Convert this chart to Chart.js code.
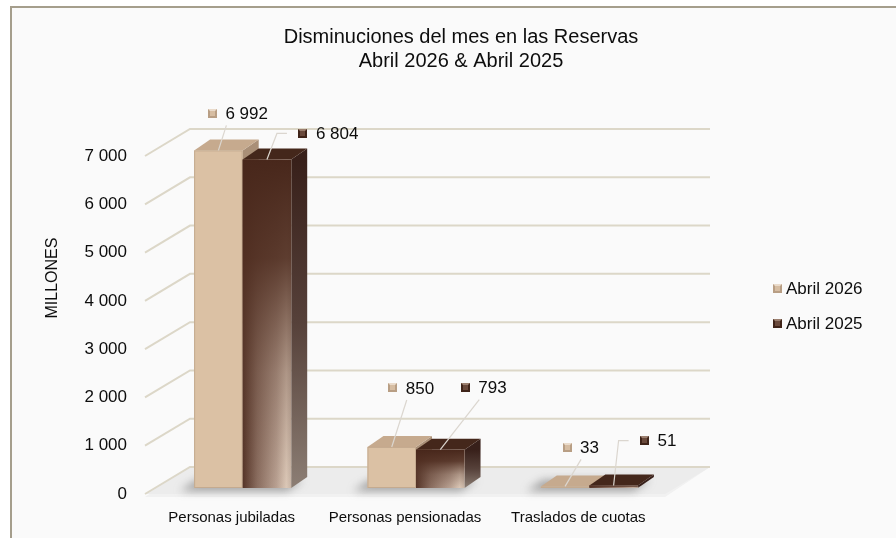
<!DOCTYPE html>
<html>
<head>
<meta charset="utf-8">
<script src="https://cdn.jsdelivr.net/npm/chart.js@4.4.1/dist/chart.umd.min.js"></script>
<style>
  body { margin: 0; background: #ffffff; }
  canvas { display: block; }
</style>
</head>
<body>
<canvas id="reservas" width="896" height="538"></canvas>
<script>
var categorias = ['Personas jubiladas', 'Personas pensionadas', 'Traslados de cuotas'];
var abril2026 = [6992, 850, 33];
var abril2025 = [6804, 793, 51];
var ticksY = [0, 1000, 2000, 3000, 4000, 5000, 6000, 7000];
var series = ['Abril 2026', 'Abril 2025'];
var titulo = ['Disminuciones del mes en las Reservas', 'Abril 2026 & Abril 2025'];
var tituloEje = 'MILLONES';

// posicion de las etiquetas respecto a la cara frontal de cada barra (como en excel)
var posEtiq = [
  [[-6, -37], [1, -59], [2, -39]],
  [[36, -26], [25, -62], [31, -45]]
];
var guiaEtiq = [
  ['abajo', 'abajo', 'abajo'],
  ['izq', 'abajo', 'izq']
];

// desplazamientos del efecto 3d
var OX = 11, OY = -6;   // cara frontal de las barras respecto al piso
var BX = 16, BY = -11;  // profundidad de las barras
var PX = 45, PY = -27;  // profundidad de las paredes

var fuente = 'Liberation Sans';
var colorTexto = '#0d0d0d';

function miles(v) {
  return String(v).replace(/\B(?=(\d{3})+(?!\d))/g, ' ');
}

function poly(c, pts, fill) {
  c.beginPath();
  c.moveTo(pts[0][0], pts[0][1]);
  for (var k = 1; k < pts.length; k++) c.lineTo(pts[k][0], pts[k][1]);
  c.closePath();
  c.fillStyle = fill;
  c.fill();
}

function icono(c, cx, cy, serie) {
  var s = 9;
  var x = Math.round(cx - s / 2), y = Math.round(cy - s / 2);
  var base = serie === 0 ? '#b89e84' : '#3f2419';
  var claro = serie === 0 ? '#eadbcb' : '#9c8070';
  var medio = serie === 0 ? '#d6bda2' : '#6a4a3c';
  c.fillStyle = base;
  c.fillRect(x, y, s, s);
  poly(c, [[x, y], [x + s, y], [x + s - 2, y + 2], [x + 2, y + 2]], claro);
  c.fillStyle = medio;
  c.fillRect(x + 2, y + 2, s - 4, s - 4);
}

function caja(c, bar, serie) {
  var x0 = bar.x - bar.width / 2 + OX, x1 = bar.x + bar.width / 2 + OX;
  var yt = bar.y + OY, yb = bar.base + OY;
  var lado = [[x1, yt], [x1 + BX, yt + BY], [x1 + BX, yb + BY], [x1, yb]];
  var tapa = [[x0, yt], [x1, yt], [x1 + BX, yt + BY], [x0 + BX, yt + BY]];
  var frente = [[x0, yt], [x1, yt], [x1, yb], [x0, yb]];

  if (serie === 0) {
    var gl = c.createLinearGradient(0, yt, 0, yb);
    gl.addColorStop(0, '#a98f77');
    gl.addColorStop(1, '#b9a089');
    poly(c, lado, gl);
    poly(c, tapa, '#c6aa8e');
    poly(c, frente, '#dbc1a4');
    c.strokeStyle = '#c4aa8f';
    c.lineWidth = 1;
    c.strokeRect(x0 + 0.5, yt + 0.5, x1 - x0 - 1, yb - yt - 1);
  } else {
    var gs = c.createLinearGradient(0, yt, 0, yb);
    gs.addColorStop(0, '#38201a');
    gs.addColorStop(0.5, '#56413a');
    gs.addColorStop(1, '#8c7e74');
    poly(c, lado, gs);
    poly(c, tapa, '#44271b');
    // brillo horizontal (parte baja de la barra)
    var gh = c.createLinearGradient(x0, 0, x1, 0);
    gh.addColorStop(0, '#553427');
    gh.addColorStop(0.3, '#8a6d5f');
    gh.addColorStop(0.7, '#b9a192');
    gh.addColorStop(0.9, '#dcc8b7');
    gh.addColorStop(1, '#c9b6a7');
    poly(c, frente, gh);
    // sombra oscura que baja desde arriba
    var gv = c.createLinearGradient(0, yt, 0, yb);
    gv.addColorStop(0, 'rgba(72,39,27,1)');
    gv.addColorStop(0.3, 'rgba(80,46,33,0.9)');
    gv.addColorStop(0.65, 'rgba(90,58,45,0.35)');
    gv.addColorStop(1, 'rgba(90,58,45,0)');
    poly(c, frente, gv);
  }
}

var efecto3d = {
  id: 'efecto3d',
  beforeDraw: function(chart) {
    var c = chart.ctx;
    c.save();
    c.fillStyle = '#ffffff';
    c.fillRect(0, 0, chart.width, chart.height);
    c.fillStyle = '#fafafa';
    c.fillRect(11, 7, chart.width, chart.height);
    c.strokeStyle = '#a59e8c';
    c.lineWidth = 2;
    c.beginPath();
    c.moveTo(11, chart.height);
    c.lineTo(11, 7);
    c.lineTo(chart.width, 7);
    c.stroke();
    c.restore();
  },
  beforeDatasetsDraw: function(chart) {
    var c = chart.ctx, a = chart.chartArea, ey = chart.scales.y;
    c.save();
    // piso
    poly(c, [[a.left, a.bottom + 3], [a.right, a.bottom + 3], [a.right + PX, a.bottom + PY], [a.left + PX, a.bottom + PY]], '#f1f1f1');
    poly(c, [[a.left, a.bottom], [a.right, a.bottom], [a.right + PX, a.bottom + PY], [a.left + PX, a.bottom + PY]], '#ececec');
    // lineas de division
    c.strokeStyle = '#dcd7c8';
    c.lineWidth = 2;
    ticksY.forEach(function(v) {
      var py = ey.getPixelForValue(v);
      c.beginPath();
      c.moveTo(a.left, py);
      c.lineTo(a.left + PX, py + PY);
      c.lineTo(a.right + PX, py + PY);
      c.stroke();
    });
    // sombras de las barras sobre el piso
    var m0 = chart.getDatasetMeta(0), m1 = chart.getDatasetMeta(1);
    c.filter = 'blur(4px)';
    for (var i = 0; i < categorias.length; i++) {
      var b0 = m0.data[i], b1 = m1.data[i];
      var x0 = b0.x - b0.width / 2 + OX - 14, x1 = b1.x + b1.width / 2 + OX - 4;
      var yb = b0.base + OY + 3;
      poly(c, [[x0, yb], [x1, yb], [x1 + BX, yb + BY], [x0 + BX, yb + BY]], 'rgba(100,100,100,0.55)');
    }
    c.filter = 'none';
    c.restore();
  },
  afterDatasetsDraw: function(chart) {
    var c = chart.ctx;
    c.save();
    var metas = [chart.getDatasetMeta(0), chart.getDatasetMeta(1)];
    for (var i = 0; i < categorias.length; i++) {
      for (var s = 0; s < 2; s++) {
        caja(c, metas[s].data[i], s);
      }
    }
    // lineas guia y etiquetas de datos
    c.font = '17px "' + fuente + '"';
    c.textBaseline = 'middle';
    c.textAlign = 'left';
    for (var s2 = 0; s2 < 2; s2++) {
      var valores = chart.data.datasets[s2].data;
      for (var j = 0; j < valores.length; j++) {
        var bar = metas[s2].data[j];
        var cx = bar.x + OX, yt = bar.y + OY;
        var ix = cx + posEtiq[s2][j][0], iy = yt + posEtiq[s2][j][1];
        c.strokeStyle = '#dbd6cf';
        c.lineWidth = 1.2;
        c.beginPath();
        c.moveTo(cx, yt);
        if (guiaEtiq[s2][j] === 'izq') {
          c.lineTo(ix - 26, iy);
          c.lineTo(ix - 16, iy);
        } else {
          c.lineTo(ix + 14, iy + 12);
        }
        c.stroke();
        icono(c, ix, iy, s2);
        c.fillStyle = colorTexto;
        c.fillText(miles(valores[j]), ix + 13, iy + 1);
      }
    }
    // leyenda
    for (var k = 0; k < series.length; k++) {
      var ly = 288 + k * 35;
      icono(c, 777, ly, k);
      c.fillStyle = colorTexto;
      c.fillText(series[k], 786, ly + 1);
    }
    // titulo del eje
    c.translate(52, 278);
    c.rotate(-Math.PI / 2);
    c.textAlign = 'center';
    c.font = '16px "' + fuente + '"';
    c.fillText(tituloEje, 0, 1);
    c.restore();
  }
};

Chart.defaults.font.family = fuente;
Chart.defaults.color = colorTexto;

var ctx = document.getElementById('reservas');
var grafico = new Chart(ctx, {
  type: 'bar',
  data: {
    labels: categorias,
    datasets: [
      {
        label: series[0],
        data: abril2026,
        yAxisID: 'y',
        backgroundColor: 'rgba(0,0,0,0)',
        categoryPercentage: 0.56,
        barPercentage: 1
      },
      {
        label: series[1],
        data: abril2025,
        yAxisID: 'y',
        backgroundColor: 'rgba(0,0,0,0)',
        categoryPercentage: 0.56,
        barPercentage: 1
      }
    ]
  },
  options: {
    responsive: false,
    animation: false,
    layout: { padding: { left: 26, right: 0, top: 0, bottom: 0 } },
    plugins: {
      legend: { display: false },
      tooltip: { enabled: false },
      title: {
        display: true,
        text: titulo,
        color: colorTexto,
        font: { family: fuente, size: 20, weight: 'normal' },
        padding: { top: 25, bottom: 83 }
      }
    },
    scales: {
      x: {
        grid: { display: false, drawTicks: false },
        border: { display: false },
        ticks: { font: { size: 15 }, color: colorTexto, padding: 15, autoSkip: false, maxRotation: 0 },
        afterFit: function(s) { s.height = 44; }
      },
      y: {
        min: 0,
        max: 7000,
        afterBuildTicks: function(s) { s.ticks = ticksY.map(function(v) { return { value: v }; }); },
        grid: { display: false, drawTicks: false },
        border: { display: false },
        ticks: { font: { size: 17 }, color: colorTexto, padding: 18, callback: function(v) { return miles(v); } },
        afterFit: function(s) { s.width = 119; }
      },
      derecha: {
        type: 'linear',
        position: 'right',
        grid: { display: false, drawTicks: false },
        border: { display: false },
        ticks: { display: false },
        afterFit: function(s) { s.width = 231; }
      }
    }
  },
  plugins: [efecto3d]
});
</script>
</body>
</html>
